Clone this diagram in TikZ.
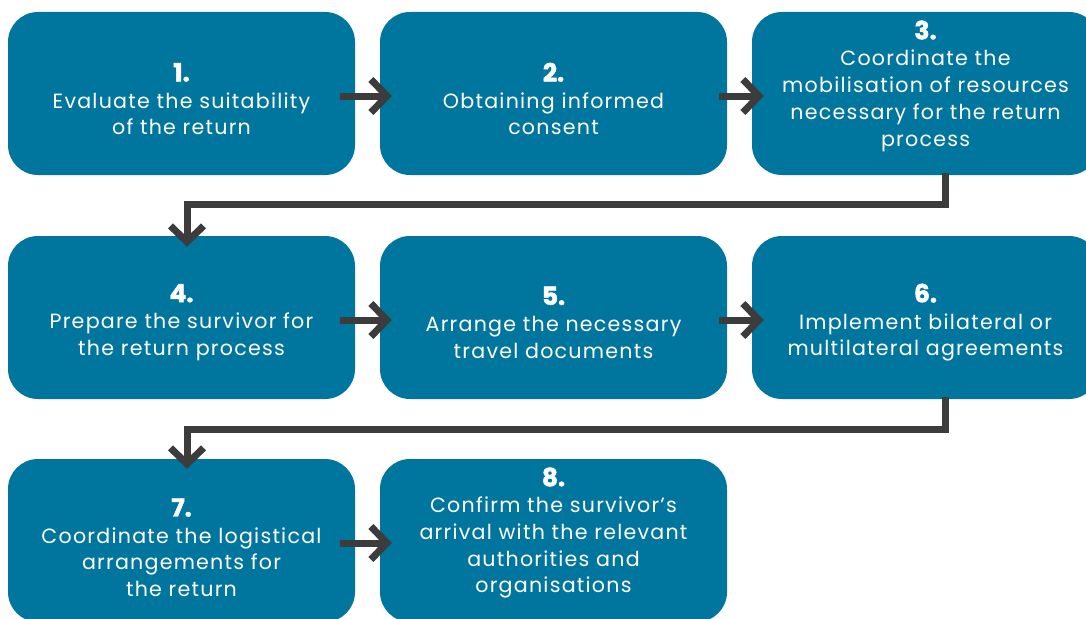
\documentclass[tikz,border=0pt]{standalone}
\usepackage{fontspec}
\setmainfont{Poppins}[LetterSpace=6]
\newfontfamily\numfont{Poppins}[BoldFeatures={FakeBold=1.8}]
\usetikzlibrary{arrows.meta}
\definecolor{boxblue}{HTML}{00769E}
\definecolor{arrgray}{HTML}{3C3C3C}
\newcommand{\stepnum}[1]{{\numfont\bfseries\fontsize{25}{26.7}\selectfont #1}}
\begin{document}
\begin{tikzpicture}[x=1pt,y=-1pt,
 stepbox/.style={fill=boxblue, rounded corners=30pt, minimum width=347pt, minimum height=163pt, inner sep=0pt, draw=none},
 steptext/.style={text=white, align=center, font=\fontsize{20.6}{26.7}\selectfont, inner sep=0pt},
 arr/.style={draw=arrgray, line width=7pt, line join=miter, -{Straight Barb[length=16pt,width=33pt,line join=miter,line cap=butt]}}]
\useasboundingbox (0,0) rectangle (1086,618);
\clip (0,0) rectangle (1086,618);
\fill[white] (0,0) rectangle (1086,618);
% boxes
\node[stepbox] (b1) at (181.5,93.5) {};
\node[stepbox] (b2) at (553.5,93.5) {};
\node[stepbox] (b3) at (925.5,93.5) {};
\node[stepbox] (b4) at (181.5,317.5) {};
\node[stepbox] (b5) at (553.5,317.5) {};
\node[stepbox] (b6) at (925.5,317.5) {};
\node[stepbox] (b7) at (181.5,540.5) {};
\node[stepbox] (b8) at (553.5,540.5) {};
% texts
\node[steptext] (t1) at (181.5,99) {\stepnum{1.}\\Evaluate the suitability\\of the return};
\node[steptext] (t2) at (553.5,99) {\stepnum{2.}\\Obtaining informed\\consent};
\node[steptext] (t3) at (925.5,86) {\stepnum{3.}\\Coordinate the\\mobilisation of resources\\necessary for the return\\process};
\node[steptext] (t4) at (181.5,322.5) {\stepnum{4.}\\Prepare the survivor for\\the return process};
\node[steptext] (t5) at (553.5,322.5) {\stepnum{5.}\\Arrange the necessary\\travel documents};
\node[steptext] (t6) at (925.5,322.5) {\stepnum{6.}\\Implement bilateral or\\multilateral agreements};
\node[steptext] (t7) at (181.5,547.5) {\stepnum{7.}\\Coordinate the logistical\\arrangements for\\the return};
\node[steptext] (t8) at (553.5,533) {\stepnum{8.}\\Confirm the survivor’s\\arrival with the relevant\\authorities and\\organisations};
% arrows
\draw[arr] ([xshift=-15pt,yshift=-2.5pt]b1.east) -- ([xshift=12pt,yshift=-2.5pt]b2.west);
\draw[arr] ([xshift=-8pt,yshift=-2.5pt]b2.east) -- ([xshift=12pt,yshift=-2.5pt]b3.west);
\draw[arr] ([xshift=-15pt,yshift=-2.5pt]b4.east) -- ([xshift=12pt,yshift=-2.5pt]b5.west);
\draw[arr] ([xshift=-8pt,yshift=-2.5pt]b5.east) -- ([xshift=12pt,yshift=-2.5pt]b6.west);
\draw[arr] ([xshift=-15pt,yshift=-2.5pt]b7.east) -- ([xshift=12pt,yshift=-2.5pt]b8.west);
\draw[arr] ([xshift=20pt,yshift=2pt]b3.south) -- ++(0,31) -| ([xshift=5.5pt,yshift=-11pt]b4.north);
\draw[arr] ([xshift=20pt,yshift=2pt]b6.south) -- ++(0,32) -| ([xshift=5.5pt,yshift=-10pt]b7.north);
\end{tikzpicture}
\end{document}
